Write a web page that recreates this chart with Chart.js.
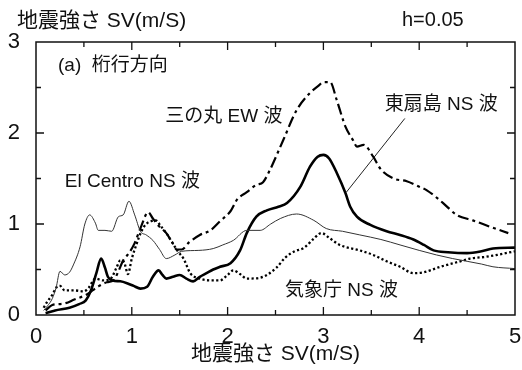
<!DOCTYPE html>
<html>
<head>
<meta charset="utf-8">
<script src="https://cdn.jsdelivr.net/npm/chart.js@4/dist/chart.umd.min.js"></script>
<style>
html,body{margin:0;padding:0;background:#fff;}
canvas{display:block;}
</style>
</head>
<body>
<canvas id="c" width="522" height="370"></canvas>
<script>
// ---- data ----
const xTickLabels = [0, 1, 2, 3, 4, 5];
const yTickLabels = [0, 1, 2, 3];
const xTickMarks = [0.5, 1, 1.5, 2, 2.5, 3, 3.5, 4, 4.5];
const yTickMarks = [0.5, 1, 1.5, 2, 2.5];

const elCentroX = [0.08,0.12,0.17,0.21,0.25,0.3,0.35,0.39,0.46,0.51,0.56,0.62,0.65,0.72,0.79,0.86,0.91,0.97,1.03,1.09,1.15,1.22,1.29,1.36,1.45,1.52,1.7,1.85,1.95,2.06,2.2,2.34,2.45,2.55,2.72,2.9,3.03,3.2,3.38,3.6,3.8,4.0,4.18,4.35,4.5,4.65,4.77,5.0];
const elCentroY = [0.05,0.1,0.18,0.3,0.48,0.44,0.47,0.55,0.75,1.0,1.1,1.01,0.93,0.93,0.92,1.08,1.1,1.25,1.1,0.92,0.88,0.82,0.72,0.62,0.66,0.70,0.71,0.73,0.77,0.82,0.93,0.93,1.0,1.06,1.11,1.04,0.95,0.92,0.88,0.83,0.77,0.71,0.66,0.62,0.59,0.56,0.53,0.51];

const higashiX = [0.1,0.2,0.35,0.45,0.52,0.57,0.63,0.68,0.72,0.75,0.8,0.88,0.95,1.02,1.09,1.16,1.22,1.28,1.32,1.36,1.43,1.5,1.57,1.64,1.71,1.78,1.85,1.92,2.03,2.13,2.2,2.3,2.41,2.53,2.62,2.76,2.86,2.94,3.0,3.06,3.14,3.23,3.28,3.35,3.49,3.66,3.8,3.94,4.05,4.15,4.3,4.5,4.65,4.77,5.0];
const higashiY = [0.02,0.05,0.08,0.12,0.16,0.26,0.46,0.62,0.52,0.42,0.38,0.37,0.35,0.32,0.29,0.31,0.42,0.49,0.44,0.40,0.42,0.44,0.40,0.37,0.42,0.46,0.5,0.53,0.57,0.71,0.9,1.08,1.15,1.19,1.23,1.41,1.63,1.74,1.76,1.72,1.56,1.34,1.19,1.08,0.99,0.92,0.88,0.83,0.77,0.71,0.69,0.68,0.70,0.73,0.74];

const sannomaruX = [0.1,0.17,0.25,0.31,0.4,0.52,0.59,0.66,0.74,0.81,0.86,0.91,0.97,1.03,1.1,1.17,1.22,1.28,1.36,1.42,1.47,1.52,1.6,1.71,1.82,1.92,2.03,2.1,2.2,2.3,2.37,2.44,2.58,2.72,2.86,2.95,3.0,3.07,3.14,3.23,3.31,3.35,3.42,3.52,3.6,3.73,3.87,4.0,4.08,4.25,4.39,4.56,4.74,4.93];
const sannomaruY = [0.05,0.11,0.12,0.13,0.17,0.22,0.27,0.32,0.36,0.38,0.48,0.6,0.68,0.79,0.98,1.13,1.06,0.98,0.9,0.8,0.72,0.72,0.8,0.88,0.93,1.03,1.14,1.27,1.35,1.43,1.46,1.59,1.92,2.25,2.44,2.52,2.56,2.56,2.36,2.07,1.92,1.85,1.87,1.74,1.6,1.5,1.47,1.41,1.37,1.23,1.1,1.04,0.97,0.9];

const kishoX = [0.08,0.12,0.17,0.21,0.25,0.3,0.4,0.5,0.55,0.62,0.7,0.78,0.84,0.88,0.92,0.96,1.0,1.05,1.1,1.15,1.2,1.25,1.3,1.36,1.42,1.48,1.54,1.61,1.71,1.82,1.92,2.0,2.06,2.13,2.2,2.34,2.51,2.6,2.7,2.8,2.9,2.98,3.07,3.17,3.38,3.52,3.66,3.8,3.94,4.05,4.22,4.43,4.53,4.7,4.81,5.0];
const kishoY = [0.08,0.15,0.22,0.3,0.32,0.27,0.27,0.26,0.3,0.4,0.38,0.4,0.52,0.6,0.58,0.45,0.62,0.78,0.92,1.0,1.03,1.04,0.98,0.9,0.8,0.7,0.62,0.46,0.40,0.38,0.38,0.44,0.49,0.45,0.40,0.41,0.52,0.63,0.70,0.74,0.84,0.90,0.84,0.77,0.71,0.66,0.59,0.53,0.46,0.47,0.53,0.59,0.62,0.64,0.66,0.70];

const leaderX = [3.85, 3.24];
const leaderY = [2.16, 1.35];

const seriesNames = ['El Centro NS 波', '東扇島 NS 波', '三の丸 EW 波', '気象庁 NS 波'];
const panelLabel = '(a)  桁行方向';
const axisTitle = '地震強さ SV(m/S)';
const dampingLabel = 'h=0.05';

// ---- build ----
const pts = (xs, ys) => xs.map((x, i) => ({x: x, y: ys[i]}));
const FONT = "'Liberation Sans', 'Noto Sans CJK JP', sans-serif";

const textItems = [
  {t: panelLabel, x: 0.23, y: 2.74},
  {t: seriesNames[2], x: 1.35, y: 2.18},
  {t: seriesNames[1], x: 3.64, y: 2.31},
  {t: seriesNames[0], x: 0.30, y: 1.46},
  {t: seriesNames[3], x: 2.6, y: 0.27}
];

const framePlugin = {
  id: 'frame',
  afterDatasetsDraw(chart) {
    const ctx = chart.ctx;
    const a = chart.chartArea;
    const xs = chart.scales.x, ys = chart.scales.y;
    ctx.save();
    ctx.strokeStyle = '#111';
    ctx.lineWidth = 1.5;
    ctx.strokeRect(a.left, a.top, a.right - a.left, a.bottom - a.top);
    ctx.lineWidth = 1.3;
    ctx.beginPath();
    xTickMarks.forEach(v => {
      const p = xs.getPixelForValue(v);
      const len = Number.isInteger(v) ? 8 : 5;
      ctx.moveTo(p, a.bottom); ctx.lineTo(p, a.bottom - len);
      ctx.moveTo(p, a.top); ctx.lineTo(p, a.top + len);
    });
    yTickMarks.forEach(v => {
      const p = ys.getPixelForValue(v);
      const len = Number.isInteger(v) ? 8 : 5;
      ctx.moveTo(a.left, p); ctx.lineTo(a.left + len, p);
      ctx.moveTo(a.right, p); ctx.lineTo(a.right - len, p);
    });
    ctx.stroke();
    // annotation labels
    ctx.fillStyle = '#111';
    ctx.textBaseline = 'middle';
    ctx.textAlign = 'left';
    ctx.font = '19px ' + FONT;
    textItems.forEach(it => {
      ctx.fillText(it.t, xs.getPixelForValue(it.x), ys.getPixelForValue(it.y));
    });
    // header texts
    ctx.font = '21px ' + FONT;
    ctx.fillText(axisTitle, 17, 21);
    ctx.font = '20px ' + FONT;
    ctx.fillText(dampingLabel, 402, 20);
    ctx.restore();
  }
};

new Chart(document.getElementById('c'), {
  type: 'line',
  data: {
    datasets: [
      {label: seriesNames[0], data: pts(elCentroX, elCentroY), borderColor: '#333', borderWidth: 1, cubicInterpolationMode: 'monotone'},
      {label: seriesNames[1], data: pts(higashiX, higashiY), borderColor: '#000', borderWidth: 2.6, cubicInterpolationMode: 'monotone'},
      {label: seriesNames[2], data: pts(sannomaruX, sannomaruY), borderColor: '#000', borderWidth: 2.2, borderDash: [11, 4, 3, 4], cubicInterpolationMode: 'monotone'},
      {label: seriesNames[3], data: pts(kishoX, kishoY), borderColor: '#000', borderWidth: 2.3, borderDash: [2.2, 2.4], cubicInterpolationMode: 'monotone'},
      {label: 'leader', data: pts(leaderX, leaderY), borderColor: '#222', borderWidth: 1}
    ]
  },
  options: {
    responsive: false,
    animation: false,
    devicePixelRatio: 1,
    elements: {point: {radius: 0}},
    layout: {padding: {left: 0, right: 7, top: 42, bottom: 0}},
    plugins: {legend: {display: false}, tooltip: {enabled: false}, title: {display: false}},
    scales: {
      x: {
        type: 'linear', min: 0, max: 5,
        afterFit: s => { s.height = 55; s.paddingLeft = 0; s.paddingRight = 0; },
        afterBuildTicks: s => { s.ticks = xTickLabels.map(v => ({value: v})); },
        grid: {display: false, drawTicks: false},
        border: {display: false},
        ticks: {font: {size: 22, family: FONT}, color: '#111', padding: 9, maxRotation: 0},
        title: {display: true, text: axisTitle, font: {size: 21, family: FONT}, color: '#111', padding: {top: 0, bottom: 3}}
      },
      y: {
        type: 'linear', min: 0, max: 3,
        afterFit: s => { s.width = 36; s.paddingTop = 0; s.paddingBottom = 0; },
        afterBuildTicks: s => { s.ticks = yTickLabels.map(v => ({value: v})); },
        grid: {display: false, drawTicks: false},
        border: {display: false},
        ticks: {font: {size: 22, family: FONT}, color: '#111', padding: 16}
      }
    }
  },
  plugins: [framePlugin]
});
</script>
</body>
</html>
